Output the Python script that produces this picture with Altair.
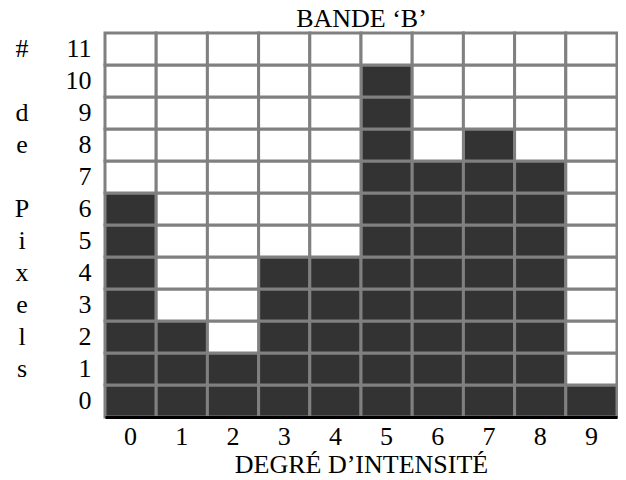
import altair as alt
import pandas as pd

# Data
intensites = [0, 1, 2, 3, 4, 5, 6, 7, 8, 9]
nb_pixels = [7, 3, 2, 5, 5, 11, 8, 9, 8, 1]
niveaux = [0, 1, 2, 3, 4, 5, 6, 7, 8, 9, 10, 11]
lettres_y = ["#", "d", "e", "P", "i", "x", "e", "l", "s"]
lignes_lettres = [11, 9, 8, 6, 5, 4, 3, 2, 1]

records = []
for i, h in zip(intensites, nb_pixels):
    for n in niveaux:
        records.append({"deg": i, "niv": n, "etat": "plein" if n < h else "vide"})
df = pd.DataFrame(records)
df_lettres = pd.DataFrame({"lettre": lettres_y, "niv": lignes_lettres})

FONT = "Liberation Serif"
FS = 26
GRIS = "#808080"

x_scale = alt.Scale(domain=intensites, paddingInner=0, paddingOuter=0)

y_enc = alt.Y(
    "niv:O",
    sort="descending",
    scale=alt.Scale(domain=niveaux[::-1], paddingInner=0, paddingOuter=0),
    axis=alt.Axis(
        title=None, domain=False, ticks=False, tickSize=0, labelPadding=14, grid=False,
        labelFont=FONT, labelFontSize=FS, labelColor="black",
    ),
)

pleines = alt.Chart(df).transform_filter(alt.datum.etat == "plein").mark_rect(
    stroke=GRIS, strokeWidth=3, fill="#333333"
).encode(
    x=alt.X(
        "deg:O",
        scale=x_scale,
        axis=alt.Axis(
            orient="bottom",
            title="DEGRÉ D’INTENSITÉ", labelAngle=0, ticks=False, tickSize=0,
            domainColor="black", domainWidth=3, labelPadding=6, titlePadding=2,
            zindex=1, grid=False,
            labelFont=FONT, titleFont=FONT, labelFontSize=FS, titleFontSize=FS,
            titleFontWeight="normal", labelColor="black", titleColor="black",
        ),
    ),
    y=y_enc,
)

vides = alt.Chart(df).transform_filter(alt.datum.etat == "vide").mark_rect(
    stroke=GRIS, strokeWidth=3, fill="#ffffff"
).encode(
    x=alt.X(
        "deg:O",
        scale=x_scale,
        axis=alt.Axis(
            orient="top",
            title="BANDE ‘B’", labels=False, ticks=False, tickSize=0, domain=False,
            grid=False, titlePadding=2,
            titleFont=FONT, titleFontSize=FS, titleFontWeight="normal", titleColor="black",
        ),
    ),
    y=y_enc,
)

lettres = alt.Chart(df_lettres).mark_text(
    font=FONT, fontSize=FS, color="black", align="center", baseline="middle"
).encode(
    x=alt.value(-83),
    y=y_enc,
    text="lettre:N",
)

chart = alt.layer(pleines, vides, lettres).resolve_axis(x="independent").properties(
    width=512,
    height=384,
    autosize=alt.AutoSizeParams(type="none"),
    padding={"left": 97, "top": 25, "right": 1, "bottom": 60},
).configure_view(stroke=None)

chart.save("out.html", embed_options={"renderer": "svg", "actions": False})
